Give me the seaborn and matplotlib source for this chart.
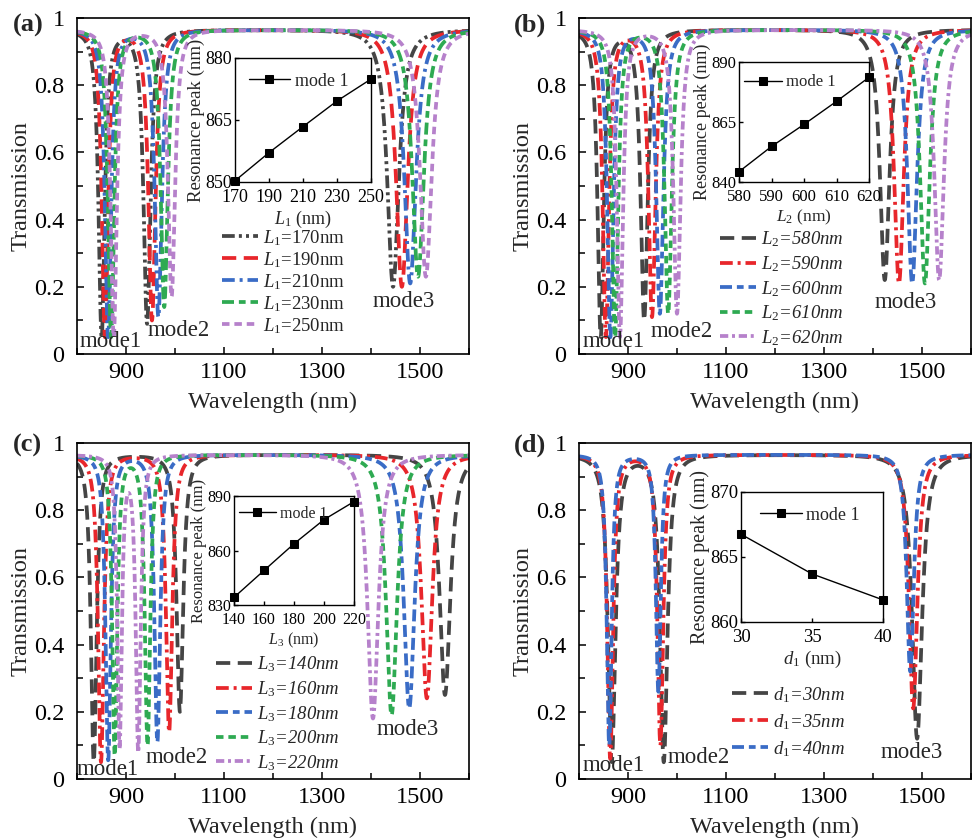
import numpy as np
import pandas as pd
import matplotlib
matplotlib.use("Agg")
import matplotlib.pyplot as plt
import seaborn as sns
from matplotlib.ticker import MultipleLocator

# ---------------- data ----------------
# panel (a): varying L1
a_param = [170, 190, 210, 230, 250]
a_labels = [r"$L_1$=170nm", r"$L_1$=190nm", r"$L_1$=210nm", r"$L_1$=230nm", r"$L_1$=250nm"]
a_peak = [850.3, 857.1, 863.4, 869.6, 874.9]          # inset: mode 1 resonance (nm)
a_c2 = [943, 953, 966, 978, 993]
a_c3 = [1445, 1463, 1480, 1496, 1512]
a_m1 = [0.05, 0.05, 0.05, 0.05, 0.05]
a_m2 = [0.09, 0.10, 0.11, 0.14, 0.17]
a_m3 = [0.20, 0.20, 0.21, 0.23, 0.23]
a_w1 = [15, 15, 15, 15, 15]
a_w2 = [17, 17, 17, 17, 17]
a_w3 = [28, 28, 28, 28, 28]

# panel (b): varying L2
b_param = [580, 590, 600, 610, 620]
b_labels = [r"$L_2$=580nm", r"$L_2$=590nm", r"$L_2$=600nm", r"$L_2$=610nm", r"$L_2$=620nm"]
b_peak = [844.3, 854.8, 864.0, 873.6, 883.6]
b_c2 = [933, 949, 965, 982, 1000]
b_c3 = [1424, 1453, 1480, 1506, 1535]
b_m1 = [0.05, 0.05, 0.05, 0.05, 0.05]
b_m2 = [0.10, 0.11, 0.12, 0.12, 0.12]
b_m3 = [0.22, 0.21, 0.21, 0.21, 0.22]
b_w1 = [15, 15, 15, 15, 15]
b_w2 = [17, 17, 17, 17, 17]
b_w3 = [23, 23, 23, 23, 23]

# panel (c): varying L3
c_param = [140, 160, 180, 200, 220]
c_labels = [r"$L_3$=140nm", r"$L_3$=160nm", r"$L_3$=180nm", r"$L_3$=200nm", r"$L_3$=220nm"]
c_peak = [834.2, 849.0, 863.7, 877.0, 886.9]
c_c2 = [1010, 988, 964, 944, 925]
c_c3 = [1551, 1514, 1478, 1442, 1404]
c_m1 = [0.05, 0.05, 0.055, 0.07, 0.09]
c_m2 = [0.20, 0.14, 0.11, 0.10, 0.08]
c_m3 = [0.25, 0.24, 0.21, 0.19, 0.18]
c_w1 = [14, 14, 13, 12, 11]
c_w2 = [16, 15, 14, 13, 12]
c_w3 = [26, 26, 26, 26, 26]

# panel (d): varying d1
d_param = [30, 35, 40]
d_labels = [r"$d_1$=30nm", r"$d_1$=35nm", r"$d_1$=40nm"]
d_peak = [866.75, 863.7, 861.7]
d_c2 = [973, 966, 962]
d_c3 = [1490, 1482, 1476]
d_m1 = [0.05, 0.06, 0.10]
d_m2 = [0.05, 0.10, 0.26]
d_m3 = [0.12, 0.21, 0.32]
d_w1 = [18, 14, 12]
d_w2 = [18, 14, 12]
d_w3 = [24, 20, 17]

x_ticks = [900, 1100, 1300, 1500]
y_ticks = [0, 0.2, 0.4, 0.6, 0.8, 1]
y_ticklabels = ["0", "0.2", "0.4", "0.6", "0.8", "1"]

# ---------------- styles ----------------
GRAY, RED, BLUE, GREEN, PURPLE = "#454545", "#e8262b", "#3a6cc6", "#2eaa52", "#b681cb"
DASH = (0, (3.8, 2.0))
DASHDOT = (0, (3.4, 1.3, 0.8, 1.3))
DASHDOTDOT = (0, (3.4, 1.1, 0.8, 1.1, 0.8, 1.1))
SHORTDASH = (0, (2.0, 1.3))
DASHSHORT = (0, (3.2, 1.3, 1.8, 1.3))
SHORTDASHDOT = (0, (2.2, 1.0, 0.8, 1.0))

sns.set_theme(style="ticks")
plt.rcParams.update({
    "font.family": ["Liberation Serif", "DejaVu Serif"],
    "mathtext.fontset": "custom",
    "mathtext.rm": "Liberation Serif",
    "mathtext.it": "Liberation Serif:italic",
    "mathtext.bf": "Liberation Serif:bold",
    "xtick.direction": "in",
    "ytick.direction": "in",
    "axes.linewidth": 1.2,
    "axes.edgecolor": "black",
    "xtick.color": "black",
    "ytick.color": "black",
})

WL = np.arange(800, 1600.01, 0.5)
BASE = 0.965
SHAPE = 1.2


def spectrum(centers, minima, fwhms):
    T = np.full_like(WL, BASE)
    half = np.sqrt(2 ** (1 / SHAPE) - 1) * 2
    for c, m, f in zip(centers, minima, fwhms):
        w = f / half
        depth = 1 - m / BASE
        T *= 1 - depth * (1 + ((WL - c) / w) ** 2) ** -SHAPE
    return T


panels = [
    dict(tag="(a)", labels=a_labels, param=a_param, peak=a_peak,
         c2=a_c2, c3=a_c3, m1=a_m1, m2=a_m2, m3=a_m3, w1=a_w1, w2=a_w2, w3=a_w3,
         colors=[GRAY, RED, BLUE, GREEN, PURPLE],
         styles=[DASHDOTDOT, DASH, DASHDOT, DASHSHORT, SHORTDASH],
         italic=False, pos=[77, 18, 392, 336], inset=[235, 58, 136, 124],
         ilim=(170, 250), iylim=(850, 880), iyt=[850, 865, 880], ixl=r"$L_1$ (nm)",
         ifs=(13, 13.5, 13, 13),
         leg=(0.37, 0.375), lsp=0.12, ileg=(0.02, 0.97), tagxy=(13, 25),
         modes=[(869, 0.036), (1008, 0.07), (1466, 0.155)]),
    dict(tag="(b)", labels=b_labels, param=b_param, peak=b_peak,
         c2=b_c2, c3=b_c3, m1=b_m1, m2=b_m2, m3=b_m3, w1=b_w1, w2=b_w2, w3=b_w3,
         colors=[GRAY, RED, BLUE, GREEN, PURPLE],
         styles=[DASH, DASHDOT, DASHSHORT, SHORTDASH, SHORTDASHDOT],
         italic=True, pos=[579, 18, 392, 336], inset=[739, 62, 130, 120],
         ilim=(580, 620), iylim=(840, 890), iyt=[840, 865, 890], ixl=r"$L_2$ (nm)",
         ifs=(12, 13, 12.5, 12),
         leg=(0.36, 0.37), lsp=0.26, ileg=(-0.04, 0.98), tagxy=(514, 25),
         modes=[(871, 0.036), (1010, 0.068), (1467, 0.152)]),
    dict(tag="(c)", labels=c_labels, param=c_param, peak=c_peak,
         c2=c_c2, c3=c_c3, m1=c_m1, m2=c_m2, m3=c_m3, w1=c_w1, w2=c_w2, w3=c_w3,
         colors=[GRAY, RED, BLUE, GREEN, PURPLE],
         styles=[DASH, DASHDOT, DASHSHORT, SHORTDASH, SHORTDASHDOT],
         italic=True, pos=[77, 443, 392, 336], inset=[234, 496, 120, 109],
         ilim=(140, 220), iylim=(830, 890), iyt=[830, 860, 890], ixl=r"$L_3$ (nm)",
         ifs=(11.5, 12, 11.5, 11.5),
         leg=(0.355, 0.37), lsp=0.26, ileg=(-0.04, 1.0), tagxy=(13, 445),
         modes=[(863, 0.027), (1004, 0.063), (1474, 0.146)]),
    dict(tag="(d)", labels=d_labels, param=d_param, peak=d_peak,
         c2=d_c2, c3=d_c3, m1=d_m1, m2=d_m2, m3=d_m3, w1=d_w1, w2=d_w2, w3=d_w3,
         colors=[GRAY, RED, BLUE],
         styles=[DASH, DASHDOT, DASHSHORT],
         italic=True, pos=[579, 443, 392, 336], inset=[741, 492, 142, 130],
         ilim=(30, 40), iylim=(860, 870), iyt=[860, 865, 870], ixl=r"$d_1$ (nm)",
         ifs=(13.5, 14.5, 13.5, 13),
         leg=(0.39, 0.28), lsp=0.39, ileg=(0.06, 0.97), tagxy=(514, 445),
         modes=[(871, 0.039), (1045, 0.063), (1478, 0.078)]),
]

FW, FH = 974, 840
fig = plt.figure(figsize=(FW / 100, FH / 100), dpi=100)


def frac(box):
    x, y, w, h = box
    return [x / FW, 1 - (y + h) / FH, w / FW, h / FH]


for p in panels:
    ax = fig.add_axes(frac(p["pos"]))
    for i, lab in enumerate(p["labels"]):
        T = spectrum([p["peak"][i], p["c2"][i], p["c3"][i]],
                     [p["m1"][i], p["m2"][i], p["m3"][i]],
                     [p["w1"][i], p["w2"][i], p["w3"][i]])
        df = pd.DataFrame({"wl": WL, "T": T})
        sns.lineplot(data=df, x="wl", y="T", ax=ax, color=p["colors"][i],
                     linestyle=p["styles"][i], lw=2.7, estimator=None,
                     label=lab, legend=False)
    ax.set_xlim(800, 1600)
    ax.set_ylim(0, 1)
    ax.set_xticks(x_ticks)
    ax.xaxis.set_minor_locator(MultipleLocator(100))
    ax.set_yticks(y_ticks)
    ax.set_yticklabels(y_ticklabels)
    ax.yaxis.set_minor_locator(MultipleLocator(0.1))
    ax.tick_params(which="major", length=5, width=1.1, labelsize=17.5, pad=6)
    ax.tick_params(axis="y", which="major", pad=9)
    ax.tick_params(which="minor", length=4, width=1.1)
    ax.set_xlabel("Wavelength (nm)", fontsize=17.5, labelpad=6)
    ax.set_ylabel("Transmission", fontsize=17.5, labelpad=2)
    for sp in ax.spines.values():
        sp.set_visible(True)
        sp.set_linewidth(1.2)
    for txt, (mx, my) in zip(["mode1", "mode2", "mode3"], p["modes"]):
        ax.text(mx, my, txt, fontsize=16.5, ha="center", va="center")
    prop = {"size": 13.5, "style": "italic"} if p["italic"] else {"size": 13.5}
    ax.legend(loc="upper left", bbox_to_anchor=p["leg"], frameon=False, prop=prop,
              handlelength=1.9, handletextpad=0.3, labelspacing=p["lsp"],
              borderaxespad=0, borderpad=0)
    fig.text(p["tagxy"][0] / FW, 1 - p["tagxy"][1] / FH, p["tag"], fontsize=19,
             fontweight="bold", va="center", ha="left")

    # inset
    tfs, yfs, xfs, lfs = p["ifs"]
    axi = fig.add_axes(frac(p["inset"]))
    sns.lineplot(x=p["param"], y=p["peak"], ax=axi, color="black", lw=1,
                 marker="s", markersize=5.5, markeredgecolor="black",
                 label="mode 1", clip_on=False, estimator=None)
    axi.set_xlim(*p["ilim"])
    axi.set_ylim(*p["iylim"])
    axi.set_xticks(p["param"])
    axi.set_yticks(p["iyt"])
    axi.tick_params(labelsize=tfs, length=3, width=1, pad=2)
    axi.tick_params(axis="x", pad=5)
    axi.set_xlabel(p["ixl"], fontsize=xfs, labelpad=2)
    axi.set_ylabel("Resonance peak (nm)", fontsize=yfs, labelpad=0)
    for sp in axi.spines.values():
        sp.set_linewidth(1)
    axi.legend(loc="upper left", bbox_to_anchor=p["ileg"], frameon=False,
               fontsize=lfs, handlelength=2.3, handletextpad=0.25,
               borderaxespad=0.3, borderpad=0.3)

fig.savefig("out.png", dpi=100)
